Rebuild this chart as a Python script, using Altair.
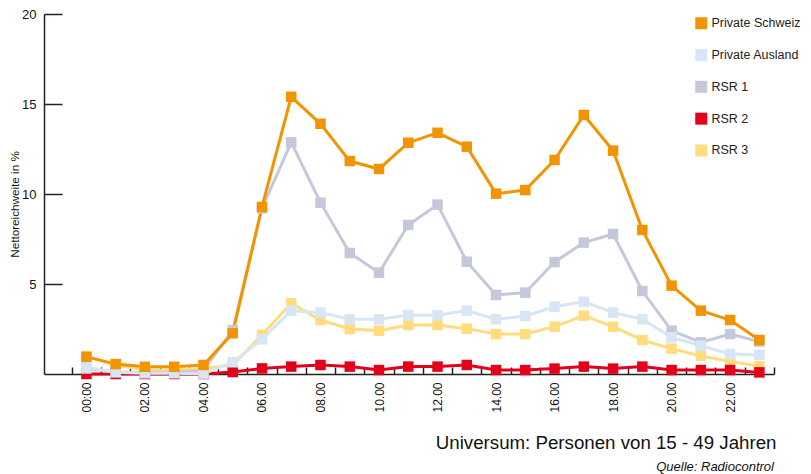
import altair as alt
import pandas as pd

hours = list(range(24))
series_names = ["Private Schweiz", "Private Ausland", "RSR 1", "RSR 2", "RSR 3"]
series_colors = ["#F29400", "#D7E6F4", "#C5C7DB", "#E3001B", "#FFDC7D"]
draw_order = ["RSR 3", "RSR 2", "RSR 1", "Private Ausland", "Private Schweiz"]

private_schweiz = [0.95, 0.55, 0.4, 0.4, 0.5, 2.26, 9.28, 15.4, 13.9, 11.83, 11.39, 12.85,
                   13.4, 12.63, 10.02, 10.22, 11.89, 14.39, 12.41, 8.0, 4.91, 3.52, 3.0, 1.89]
private_ausland = [0.37, 0.1, 0.04, 0.04, 0.02, 0.65, 1.93, 3.52, 3.41, 3.04, 3.04, 3.26,
                   3.26, 3.52, 3.04, 3.22, 3.74, 4.02, 3.41, 3.04, 2.04, 1.57, 1.11, 1.06]
rsr1 = [0.3, 0.1, 0.1, 0.1, 0.2, 2.44, 9.2, 12.87, 9.52, 6.72, 5.63, 8.28,
        9.41, 6.24, 4.39, 4.52, 6.22, 7.3, 7.78, 4.61, 2.41, 1.76, 2.22, 1.8]
rsr2 = [0.0, 0.0, 0.0, 0.0, 0.0, 0.11, 0.31, 0.41, 0.5, 0.41, 0.22, 0.41,
        0.41, 0.5, 0.22, 0.22, 0.3, 0.41, 0.3, 0.41, 0.22, 0.22, 0.22, 0.09]
rsr3 = [1.0, 0.5, 0.22, 0.22, 0.3, 0.5, 2.17, 3.93, 3.0, 2.5, 2.41, 2.72,
        2.72, 2.52, 2.22, 2.22, 2.63, 3.24, 2.63, 1.89, 1.41, 1.0, 0.69, 0.44]

values = {
    "Private Schweiz": private_schweiz,
    "Private Ausland": private_ausland,
    "RSR 1": rsr1,
    "RSR 2": rsr2,
    "RSR 3": rsr3,
}

label_hours = list(range(0, 24, 2))
tick_positions = [h - 0.5 for h in range(25)]
y_ticks = [5, 10, 15, 20]

rows = []
for name in draw_order:
    for h, v in zip(hours, values[name]):
        rows.append({"hour": h, "series": name, "value": v})
df = pd.DataFrame(rows)

FONT = "Liberation Sans"
x_scale = alt.Scale(domain=[-1.45, 23.5], nice=False, zero=False)
y_scale = alt.Scale(domain=[0, 20], nice=False)
color_scale = alt.Scale(domain=series_names, range=series_colors)

legend = alt.Legend(
    orient="none", legendX=651, legendY=3, title=None,
    symbolType="square", symbolSize=144, symbolStrokeWidth=0,
    labelFontSize=12.5, labelOffset=4, labelColor="#222", rowPadding=18.8,
    padding=0)

lines = alt.Chart(df).mark_line(strokeWidth=3).encode(
    x=alt.X("hour:Q", scale=x_scale, axis=alt.Axis(
        orient="bottom", values=label_hours,
        labelExpr="datum.value == 0 ? '00:00' : (datum.value < 10 ? '0' : '') + datum.value + '.00'",
        labelAngle=270, labelAlign="right", labelBaseline="middle",
        labelFontSize=12, labelColor="#111", labelPadding=8,
        ticks=False, tickSize=0, domain=False, grid=False,
        title="Universum: Personen von 15 - 49 Jahren",
        titleFontSize=18.7, titleFontWeight="normal", titleColor="#111",
        titleX=732, titleY=74, titleAlign="right", titleBaseline="alphabetic")),
    y=alt.Y("value:Q", scale=y_scale, axis=alt.Axis(
        orient="left", values=y_ticks, labelFontSize=13, labelColor="#111",
        labelPadding=8, ticks=False, tickSize=0, domain=False, grid=False,
        title="Nettoreichweite in %", titleFontSize=11.7, titleFontWeight="normal",
        titleColor="#111", titleX=-30, titleY=190, titleAlign="center",
        titleBaseline="middle", titleAngle=270)),
    color=alt.Color("series:N", scale=color_scale, legend=legend),
    detail="series:N",
)

points = alt.Chart(df).mark_square(size=110, opacity=1).encode(
    x=alt.X("hour:Q", scale=x_scale, axis=alt.Axis(
        orient="top", offset=-360, values=tick_positions, labels=False,
        tickSize=7, tickWidth=1.5, tickColor="#222", domain=True,
        domainColor="#222", domainWidth=1.5, grid=False, title=None)),
    y=alt.Y("value:Q", scale=y_scale, axis=alt.Axis(
        orient="right", offset=-730, values=y_ticks, labels=False,
        tickSize=18, tickWidth=1.5, tickColor="#222", domain=True,
        domainColor="#222", domainWidth=1.5, grid=False, title=None)),
    color=alt.Color("series:N", scale=color_scale, legend=legend),
)

chart = alt.layer(lines, points).properties(
    width=730, height=360,
    padding={"left": 36, "top": 6, "right": 29, "bottom": 100},
    autosize=alt.AutoSizeParams(type="none"),
    title=alt.TitleParams(
        text="Quelle: Radiocontrol", orient="bottom", anchor="end",
        fontSize=13, fontStyle="italic", fontWeight="normal", color="#111",
        font=FONT, offset=9, frame="group"),
).configure(font=FONT).configure_view(stroke=None)

chart.save("out.html", embed_options={"renderer": "svg", "actions": False})
